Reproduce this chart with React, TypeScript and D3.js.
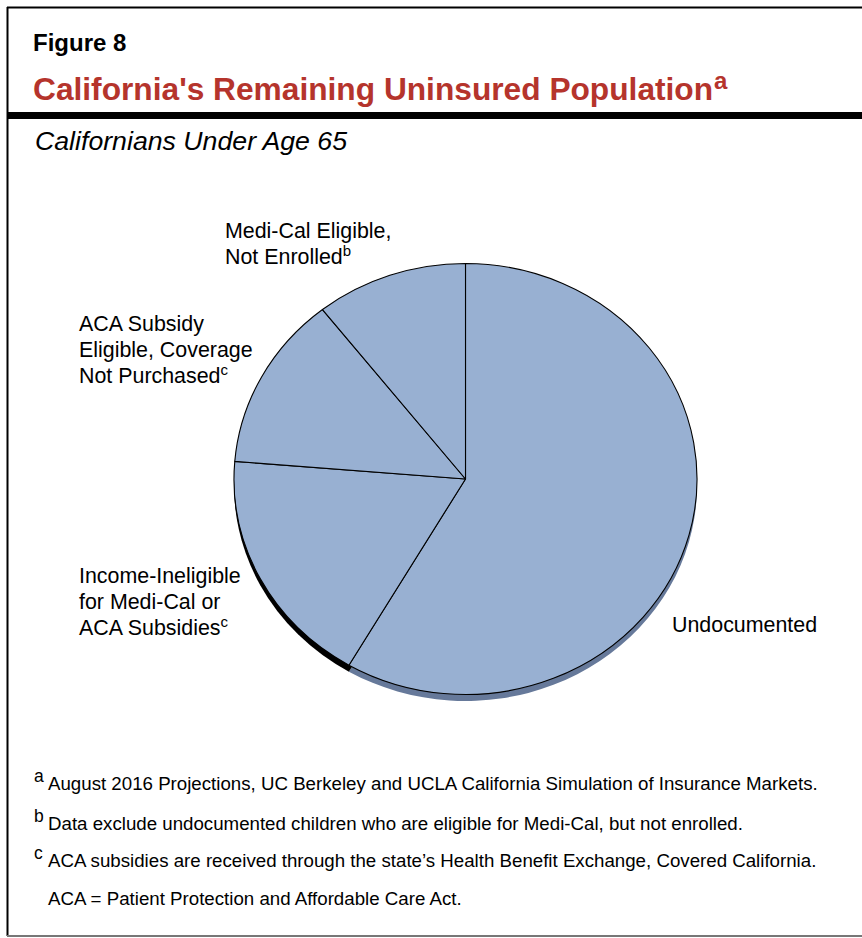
import React from "react";
import * as d3 from "d3";

const categories = [
  "Undocumented",
  "Income-Ineligible for Medi-Cal or ACA Subsidies",
  "ACA Subsidy Eligible, Coverage Not Purchased",
  "Medi-Cal Eligible, Not Enrolled",
];
const shares = [58.4, 17.9, 13.1, 10.6];
const rimColors = ["#66799a", "#000000", "#000000", "#000000"];

const footnoteMarks = ["a", "b", "c", ""];
const footnotes = [
  "August 2016 Projections, UC Berkeley and UCLA California Simulation of Insurance Markets.",
  "Data exclude undocumented children who are eligible for Medi-Cal, but not enrolled.",
  "ACA subsidies are received through the state\u2019s Health Benefit Exchange, Covered California.",
  "ACA = Patient Protection and Affordable Care Act.",
];

const W = 862;
const H = 938;
const FONT = "'Liberation Sans', Arial, Helvetica, sans-serif";
const RED = "#b5342c";
const FILL = "#98b0d2";

export default function App() {
  const cx = 465.5;
  const cy = 479;
  const rx = 231.5;
  const ry = 215.5;
  const depth = 6.5;
  const k = ry / rx;

  const pie = d3
    .pie<number>()
    .sort(null)
    .value((d) => d)
    .startAngle(0)
    .endAngle(2 * Math.PI);
  const arcs = pie(shares);
  const arc = d3.arc<d3.PieArcDatum<number>>().innerRadius(0).outerRadius(rx);

  const labelSize = 21.4;
  const lh = 26;

  const labels = [
    { x: 672, y: 632, lines: ["Undocumented"], sup: "" },
    { x: 79, y: 583, lines: ["Income-Ineligible", "for Medi-Cal or", "ACA Subsidies"], sup: "c" },
    { x: 79, y: 331, lines: ["ACA Subsidy", "Eligible, Coverage", "Not Purchased"], sup: "c" },
    { x: 225, y: 238, lines: ["Medi-Cal Eligible,", "Not Enrolled"], sup: "b" },
  ];

  const fnY = [790, 830, 867, 905];

  return (
    <svg
      width={W}
      height={H}
      viewBox={`0 0 ${W} ${H}`}
      style={{ position: "absolute", left: 0, top: 0, background: "#fff" }}
      fontFamily={FONT}
    >
      <rect x={0} y={0} width={W} height={H} fill="#fff" />
      {/* frame */}
      <line x1={7} y1={7.5} x2={W} y2={7.5} stroke="#000" strokeWidth={2} />
      <line x1={7.5} y1={7} x2={7.5} y2={936} stroke="#000" strokeWidth={2} />
      <line x1={7} y1={936} x2={W} y2={936} stroke="#777" strokeWidth={2} />
      <rect x={7} y={112} width={W - 7} height={7} fill="#000" />

      {/* headings */}
      <text x={33} y={51} fontSize={24} fontWeight="bold" fill="#000">
        Figure 8
      </text>
      <text x={33} y={100} fontSize={31.7} fontWeight="bold" fill={RED}>
        California's Remaining Uninsured Population
        <tspan fontSize={24} dy={-11} dx={1}>a</tspan>
      </text>
      <text x={35} y={150} fontSize={26.7} fontStyle="italic" fill="#000">
        Californians Under Age 65
      </text>

      {/* pie rim (depth) */}
      <g transform={`translate(${cx},${cy + depth}) scale(1,${k})`}>
        {arcs.map((a, i) => (
          <path key={`rim-${i}`} d={arc(a) || ""} fill={rimColors[i]} />
        ))}
      </g>
      {/* pie top */}
      <g transform={`translate(${cx},${cy}) scale(1,${k})`}>
        {arcs.map((a, i) => (
          <path
            key={`slice-${i}`}
            d={arc(a) || ""}
            fill={FILL}
            stroke="#000"
            strokeWidth={1.1}
            vectorEffect="non-scaling-stroke"
            strokeLinejoin="round"
          >
            <title>{categories[i]}</title>
          </path>
        ))}
      </g>

      {/* slice labels */}
      {labels.map((l, i) => (
        <g key={`lab-${i}`}>
          {l.lines.map((line, j) => {
            const y = l.y + j * lh;
            const isLast = j === l.lines.length - 1;
            return (
              <text key={j} x={l.x} y={y} fontSize={labelSize} fill="#000">
                {line}
                {isLast && l.sup ? (
                  <tspan fontSize={15} dy={-8}>
                    {l.sup}
                  </tspan>
                ) : null}
              </text>
            );
          })}
        </g>
      ))}

      {/* footnotes */}
      {footnotes.map((f, i) => (
        <g key={`fn-${i}`}>
          {footnoteMarks[i] ? (
            <text x={34} y={fnY[i] - 8} fontSize={17.5} fill="#000">
              {footnoteMarks[i]}
            </text>
          ) : null}
          <text x={48} y={fnY[i]} fontSize={18.7} fill="#000">
            {f}
          </text>
        </g>
      ))}
    </svg>
  );
}
